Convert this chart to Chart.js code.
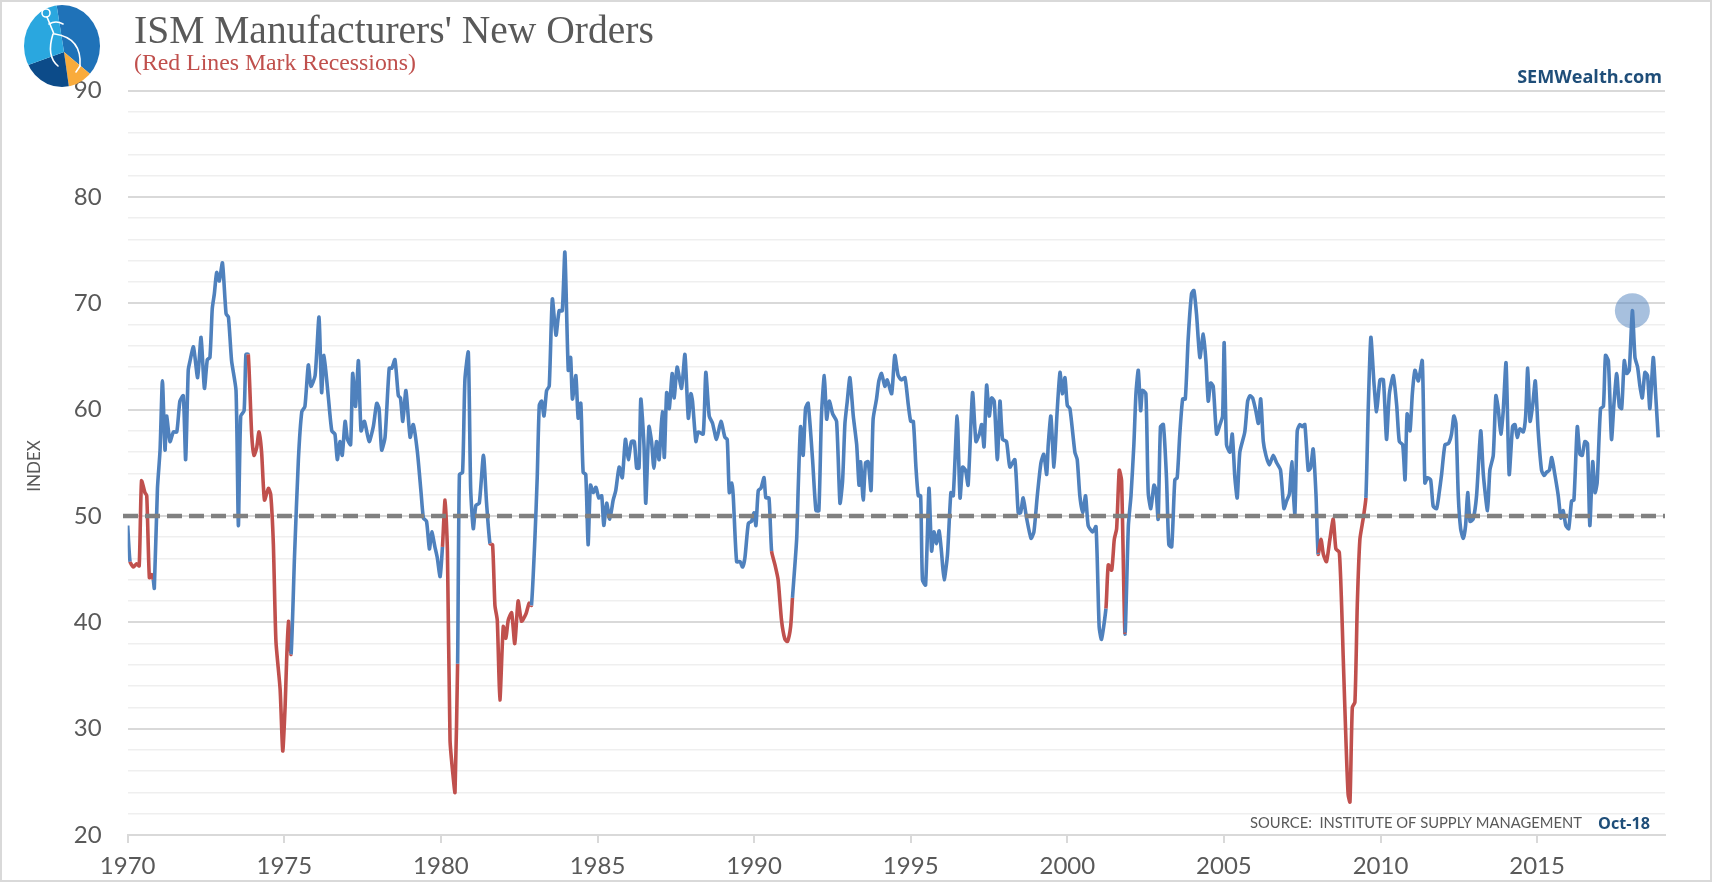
<!DOCTYPE html>
<html><head><meta charset="utf-8">
<script src="https://cdn.jsdelivr.net/npm/chart.js@4.4.1/dist/chart.umd.min.js"></script>
<style>html,body{margin:0;padding:0;background:#fff;}canvas{display:block;}</style>
</head><body>
<canvas id="c" width="1712" height="882"></canvas>
<script>
// ---- DATA ----
// month offsets since Jan 1970 of the plotted vertices
const monthsSince1970 = [
0,0.9,2.2,3.4,4.4,5.3,6.6,7.3,8.3,9.2,9.8,10.2,11.4,12.4,13.3,14.3,14.9,16.2,17.5,18.8,20.0,21.3,22.2,23.2,23.9,25.2,26.8,28.1,29.4,30.5,31.5,32.4,33.2,34.1,35.1,36.3,37.7,38.6,39.8,41.5,42.4,43.3,44.6,45.3,46.2,47.5,48.4,49.4,50.3,51.3,52.4,53.9,54.8,55.8,56.8,58.4,59.4,60.3,60.9,61.6,62.6,63.9,65.4,66.7,67.9,69.2,70.2,71.8,73.3,
74.3,75.2,76.9,78.2,79.4,80.3,81.3,82.2,83.3,84.2,85.4,86.2,87.3,88.4,89.4,90.7,92.5,94.1,95.4,96.3,97.3,98.6,100.2,101.2,102.4,103.7,104.5,105.4,106.6,108.2,109.4,111.0,112.4,113.3,114.5,115.6,116.5,117.7,118.6,119.7,120.6,121.6,122.5,123.5,124.8,125.4,126.4,127.1,128.3,129.2,130.5,131.4,132.4,133.4,134.7,136.3,137.5,138.8,139.8,140.7,141.6,142.6,
143.9,144.9,145.8,147.1,148.3,149.6,150.9,152.6,153.8,154.7,156.0,156.9,157.7,158.6,159.5,160.5,161.5,162.7,164.1,165.3,166.5,167.5,168.8,169.7,170.4,171.7,172.6,173.6,174.5,175.5,176.4,177.3,178.4,179.4,180.5,181.6,182.4,183.5,184.7,186.0,187.0,188.3,189.5,190.7,191.8,193.0,194.1,195.0,195.9,196.6,197.8,198.5,199.7,200.7,201.6,202.6,203.6,204.8,205.6,206.5,207.5,208.6,209.4,210.5,212.2,213.5,214.8,215.8,
216.4,217.7,218.6,220.5,221.5,222.8,224.1,225.6,227.3,228.8,229.7,230.5,231.4,232.0,233.3,234.6,235.6,236.5,237.8,239.0,240.0,240.7,241.6,242.6,243.8,244.5,245.7,246.7,248.0,249.2,250.5,251.8,252.8,254.0,254.7,256.3,256.9,257.8,258.8,259.7,260.7,262.4,263.7,264.8,265.8,266.9,267.8,268.8,270.1,271.6,272.9,273.9,274.8,275.7,276.7,278.0,279.3,280.2,280.8,281.8,282.7,283.7,284.8,285.6,286.9,287.8,288.8,290.1,291.0,
292.7,293.9,295.2,296.5,297.8,299.1,300.0,301.0,302.0,302.9,303.8,304.5,305.7,307.0,308.0,308.9,309.9,310.9,311.8,312.8,314.1,315.4,316.3,317.8,318.9,319.9,321.0,322.0,323.7,325.0,326.3,327.2,328.1,329.1,330.1,331.0,332.0,333.2,334.2,335.2,336.7,338.0,339.9,341.2,342.1,343.1,344.4,346.1,347.2,348.5,349.9,351.0,352.1,352.7,353.7,354.9,356.1,357.2,358.1,359.1,360.0,361.0,
362.9,363.8,364.8,365.9,367.0,368.0,369.7,371.0,372.2,373.1,374.8,375.7,377.0,378.0,378.9,379.9,380.8,382.1,383.4,384.4,385.5,386.3,387.2,388.1,388.8,390.1,391.0,392.0,393.2,394.0,394.8,395.7,396.8,398.0,398.9,400.0,401.2,402.1,403.1,404.2,405.2,406.3,407.6,408.5,409.5,410.8,412.1,413.1,414.0,414.9,415.9,417.2,418.5,419.5,420.1,421.0,422.3,423.2,424.2,425.1,426.1,428.0,429.1,430.0,431.0,432.3,433.2,434.1,435.1,436.1,437.4,
438.9,440.2,441.7,443.0,444.0,445.1,446.0,446.6,447.2,448.1,449.1,450.0,451.0,452.3,453.2,454.2,455.3,456.1,457.2,458.1,459.3,460.6,461.9,462.9,464.2,465.1,465.7,466.8,467.6,468.3,469.2,470.2,471.1,472.1,473.4,474.4,475.3,476.3,477.5,478.5,479.8,481.1,482.3,483.4,484.9,486.2,487.2,488.5,489.4,490.2,491.3,492.2,493.2,494.5,496.0,497.0,498.0,499.2,500.2,501.5,502.5,503.4,504.7,506.0,507.2,508.1,
508.9,509.8,510.7,511.7,512.6,513.4,514.3,515.5,516.8,518.4,519.4,521.0,521.9,523.2,524.2,525.1,526.1,527.0,528.1,529.3,530.6,531.5,532.4,533.4,534.7,535.6,536.4,537.3,538.3,539.3,540.4,541.7,542.7,543.6,544.7,545.6,546.8,548.1,549.1,550.0,551.0,552.1,553.2,554.1,555.4,556.4,557.3,558.3,559.3,560.2,561.3,562.2,563.0,564.3,565.4,566.2,567.3,568.5,569.4,570.5,571.5,572.4,573.4,574.3,575.3,576.5,577.5,578.5,579.4,580.3,581.3,582.3,583.2,584.5,585.4,586.4
];
// ISM new orders index at those vertices
const newOrders = [
49.1,45.7,45.2,45.5,45.3,53.3,52.2,51.9,44.2,44.5,44.0,43.2,52.6,56.2,62.7,56.2,59.4,57.0,57.9,57.9,60.8,61.3,55.3,63.7,64.6,65.9,63.0,66.8,62.0,64.7,64.9,69.5,70.9,72.9,72.1,73.8,69.0,68.7,64.6,61.8,49.1,59.4,59.9,65.2,65.2,57.7,55.7,56.4,57.9,56.0,51.5,52.6,52.0,47.4,38.2,33.7,27.9,32.0,36.5,40.1,37.0,46.1,55.3,59.8,60.3,64.2,62.2,63.2,68.7,
61.6,65.1,61.1,58.0,57.7,55.3,57.0,55.7,58.9,57.2,56.7,63.4,60.3,64.6,58.0,58.9,57.0,58.4,60.6,60.1,56.2,57.4,63.9,63.9,64.7,61.3,61.1,58.9,61.8,57.4,58.6,56.0,52.2,49.8,49.5,46.9,48.5,47.1,46.1,44.3,47.1,51.5,46.7,28.9,25.2,24.0,36.1,53.9,54.1,62.8,65.4,52.6,48.8,51.0,51.2,55.7,51.2,47.4,47.3,41.6,40.2,32.7,
39.6,38.5,40.2,40.9,38.0,42.0,40.1,40.8,41.8,41.6,47.8,53.6,60.4,60.8,59.4,61.8,62.2,70.4,67.0,69.3,69.3,74.8,63.7,64.9,61.0,63.2,59.2,60.6,54.1,53.9,47.3,52.9,52.2,52.7,51.7,51.9,49.1,51.2,49.7,51.5,52.4,54.6,53.6,57.2,55.3,57.0,57.0,54.5,54.5,61.0,56.7,51.2,58.4,57.0,54.5,57.0,55.3,59.8,55.5,61.6,60.1,63.4,61.1,64.0,62.0,65.2,59.2,61.5,
60.8,57.0,57.9,57.7,63.5,59.4,58.7,57.2,58.9,57.4,57.2,52.2,53.1,51.9,45.7,45.7,45.2,46.1,49.3,49.5,50.3,49.1,52.4,52.6,53.6,51.7,51.7,46.7,45.4,44.0,40.2,38.4,38.2,39.6,42.3,47.8,52.6,58.4,55.7,60.1,60.6,55.3,50.5,50.5,59.4,63.2,59.1,60.8,59.6,58.9,51.2,53.3,58.7,60.8,63.0,59.4,56.7,52.9,55.1,51.5,55.0,55.1,52.4,59.1,61.0,62.7,63.4,62.2,62.8,
61.5,65.1,63.2,62.8,63.0,60.4,58.9,58.9,54.6,51.9,51.9,44.0,43.5,52.6,46.7,48.5,47.4,48.6,46.6,44.0,46.4,52.2,51.9,59.4,51.7,54.6,54.3,52.9,61.6,57.0,57.7,58.6,56.5,62.3,59.4,61.1,60.8,55.3,60.8,57.2,57.0,54.6,55.3,50.3,50.3,51.7,49.8,47.9,48.5,51.9,55.0,55.8,53.9,56.7,59.4,54.6,59.8,63.5,61.5,63.0,60.4,60.1,
56.0,55.3,51.9,50.3,51.9,49.1,48.5,49.0,39.6,38.4,41.3,45.4,44.9,47.8,48.8,54.3,53.3,38.9,49.1,51.9,56.7,61.5,63.7,59.9,61.8,61.5,52.2,50.7,52.9,52.4,49.7,58.4,58.6,53.6,47.3,47.1,53.4,53.6,57.7,61.0,61.0,66.6,70.9,71.2,69.0,64.9,67.1,64.6,60.8,62.5,62.2,57.7,58.6,59.4,66.3,56.7,56.0,57.7,53.6,51.7,56.0,57.9,60.8,61.3,61.1,59.8,58.7,61.0,57.0,55.7,54.8,
55.7,55.0,54.3,50.7,51.4,52.1,55.1,52.2,50.2,58.0,58.6,58.4,58.6,54.3,54.5,56.3,51.9,46.4,47.8,46.4,45.7,47.8,49.7,46.9,46.6,41.6,36.8,28.6,23.8,23.1,32.0,32.5,41.6,47.8,49.8,51.7,60.1,66.8,62.5,59.8,62.8,62.8,57.2,61.5,63.2,60.4,57.0,56.7,53.4,59.6,58.0,61.5,63.7,62.7,64.6,53.1,53.6,53.4,50.9,50.7,52.2,53.9,56.7,56.8,57.7,59.4,
58.7,51.9,48.8,47.9,49.1,52.2,49.5,49.7,51.9,58.0,53.9,50.5,54.3,55.7,61.3,60.1,57.7,59.8,64.4,53.9,58.4,58.6,57.4,58.2,57.9,59.4,63.9,58.9,60.4,62.7,58.0,54.3,53.8,54.1,54.3,55.5,53.9,51.9,49.8,50.5,49.1,48.8,51.4,51.5,58.4,55.8,55.7,57.0,56.8,49.1,55.1,52.2,53.1,60.1,60.3,65.1,64.6,57.2,60.4,63.4,60.3,60.1,64.6,63.4,63.7,69.3,64.9,64.0,62.2,61.1,63.5,63.2,60.1,64.9,61.5,57.4
];
// recession spans (months since Jan 1970) drawn in red
const recessionStart = [0.5, 46.0, 120.5, 138.5, 246.5, 374.5, 456.0];
const recessionEnd   = [10.0, 62.6, 126.4, 154.7, 254.7, 382.1, 474.4];
const yearTicks = [1970, 1975, 1980, 1985, 1990, 1995, 2000, 2005, 2010, 2015];
const yLabelValues = [20, 30, 40, 50, 60, 70, 80, 90];
const expansionLevel = [50];

// ---- CHART ----
const BLUE = '#4f81bd', RED = '#c0504d', GREY = '#595959';
const points = monthsSince1970.map((m, i) => ({ x: 1970 + m / 12, y: newOrders[i] }));
function inRecession(x0, x1) {
  const m0 = (x0 - 1970) * 12, m1 = (x1 - 1970) * 12;
  for (let i = 0; i < recessionStart.length; i++) {
    if (m0 >= recessionStart[i] - 0.01 && m1 <= recessionEnd[i] + 0.01) return true;
  }
  return false;
}
// highlighted recent peak
let hi = -1;
monthsSince1970.forEach((m, i) => { if (m > 560 && (hi < 0 || newOrders[i] > newOrders[hi])) hi = i; });
const highlight = [points[hi]];

const X_MIN = 1970, X_MAX = 1970 + 589 / 12;

function fitFont(ctx, text, weight, family, width) {
  ctx.font = `${weight} 100px ${family}`;
  return 100 * width / ctx.measureText(text).width;
}
function drawText(ctx, text, weight, family, width, x, y, color, align) {
  const size = fitFont(ctx, text, weight, family, width);
  ctx.font = `${weight} ${size}px ${family}`;
  ctx.fillStyle = color; ctx.textAlign = align || 'left'; ctx.textBaseline = 'alphabetic';
  ctx.fillText(text, x, y);
}
function drawLogo(ctx) {
  const cx = 62, cy = 46, rx = 38, ry = 41, pcx = 64, pcy = 52;
  ctx.save();
  ctx.beginPath(); ctx.ellipse(cx, cy, rx, ry, 0, 0, Math.PI * 2); ctx.clip();
  const wedges = [[-99, 40, '#1f72b8'], [40, 82, '#f9ab3b'], [82, 160, '#0c4b89'], [160, 261, '#2aa7df']];
  wedges.forEach(([a0, a1, col]) => {
    ctx.beginPath(); ctx.moveTo(pcx, pcy);
    ctx.arc(pcx, pcy, 90, a0 * Math.PI / 180, a1 * Math.PI / 180);
    ctx.closePath(); ctx.fillStyle = col; ctx.fill();
  });
  ctx.restore();
  ctx.save();
  ctx.strokeStyle = '#ffffff'; ctx.lineWidth = 1.6; ctx.lineCap = 'round';
  ctx.beginPath(); ctx.arc(46, 13, 4, 0, Math.PI * 2); ctx.stroke();
  ctx.beginPath(); ctx.moveTo(47, 17); ctx.lineTo(54, 34); ctx.stroke();
  ctx.beginPath(); ctx.moveTo(49, 24); ctx.quadraticCurveTo(56, 20, 63, 24); ctx.stroke();
  ctx.beginPath(); ctx.moveTo(53, 34); ctx.quadraticCurveTo(46, 56, 58, 66); ctx.stroke();
  ctx.beginPath(); ctx.moveTo(55, 34); ctx.quadraticCurveTo(82, 38, 80, 66); ctx.stroke();
  ctx.beginPath(); ctx.moveTo(80, 66); ctx.lineTo(76, 72); ctx.stroke();
  ctx.restore();
}

const decor = {
  id: 'decor',
  beforeDraw(chart) {
    const ctx = chart.ctx;
    ctx.save(); ctx.fillStyle = '#ffffff'; ctx.fillRect(0, 0, chart.width, chart.height); ctx.restore();
  },
  afterDraw(chart) {
    const ctx = chart.ctx;
    ctx.save();
    drawLogo(ctx);
    drawText(ctx, "ISM Manufacturers' New Orders", 'normal', '"Liberation Serif"', 520, 134, 43, GREY);
    drawText(ctx, '(Red Lines Mark Recessions)', 'normal', '"Liberation Serif"', 282, 134, 70, RED);
    drawText(ctx, 'SEMWealth.com', 'bold', '"Open Sans"', 145, 1662, 83, '#1f4e79', 'right');
    drawText(ctx, 'SOURCE:  INSTITUTE OF SUPPLY MANAGEMENT', 'normal', 'Lato', 332, 1250, 828, GREY);
    drawText(ctx, 'Oct-18', 'bold', '"Open Sans"', 52, 1598, 829, '#1f4e79');
    ctx.translate(35, 466); ctx.rotate(-Math.PI / 2);
    ctx.font = 'normal 17px Lato'; ctx.fillStyle = GREY; ctx.textAlign = 'center'; ctx.textBaseline = 'middle';
    ctx.fillText('INDEX', 0, 0);
    ctx.restore();
    ctx.save();
    ctx.strokeStyle = '#d9d9d9'; ctx.lineWidth = 2;
    ctx.strokeRect(1, 1, chart.width - 2, chart.height - 2);
    ctx.restore();
  }
};

new Chart(document.getElementById('c'), {
  type: 'line',
  data: {
    datasets: [
      { type: 'scatter', data: highlight, pointRadius: 17.5, pointHoverRadius: 17.5,
        backgroundColor: 'rgba(79,129,189,0.5)', borderWidth: 0, order: 1 },
      { data: [{ x: X_MIN - 0.15, y: expansionLevel[0] }, { x: X_MAX, y: expansionLevel[0] }],
        borderColor: '#808080', borderWidth: 4.5, borderDash: [15, 7], pointRadius: 0, clip: false, order: 2 },
      { data: points, borderColor: BLUE, borderWidth: 3.6, pointRadius: 0, tension: 0.2,
        segment: { borderColor: c => inRecession(c.p0.parsed.x, c.p1.parsed.x) ? RED : BLUE }, order: 3 }
    ]
  },
  options: {
    responsive: false, animation: false, devicePixelRatio: 1,
    layout: { padding: { top: 90.6, right: 47, bottom: 0, left: 0 } },
    plugins: { legend: { display: false }, tooltip: { enabled: false } },
    scales: {
      x: {
        type: 'linear', min: X_MIN, max: X_MAX,
        afterFit: s => { s.height = 47; },
        afterBuildTicks: s => { s.ticks = yearTicks.map(v => ({ value: v })); },
        ticks: { callback: v => String(v), font: { family: 'Lato', size: 24 }, color: GREY, padding: 9, maxRotation: 0, autoSkip: false },
        grid: { drawOnChartArea: false, drawTicks: true, tickLength: 8, color: '#d9d9d9', lineWidth: 2 },
        border: { display: true, color: '#d9d9d9', width: 2 }
      },
      y: {
        min: 20, max: 90,
        afterFit: s => { s.width = 127.7; },
        afterBuildTicks: s => {
          const t = [];
          for (let v = 20; v <= 90; v += 2) t.push({ value: v });
          s.ticks = t;
        },
        ticks: { callback: v => (yLabelValues.includes(v) ? String(v) : ''), font: { family: 'Lato', size: 24 }, color: GREY, padding: 26, autoSkip: false },
        grid: { drawTicks: false,
          color: c => (c.tick && c.tick.value % 10 === 0 ? '#d9d9d9' : '#efefef'),
          lineWidth: c => (c.tick && c.tick.value % 10 === 0 ? 2 : 1.5) },
        border: { display: false }
      }
    }
  },
  plugins: [decor]
});
</script>
</body></html>
